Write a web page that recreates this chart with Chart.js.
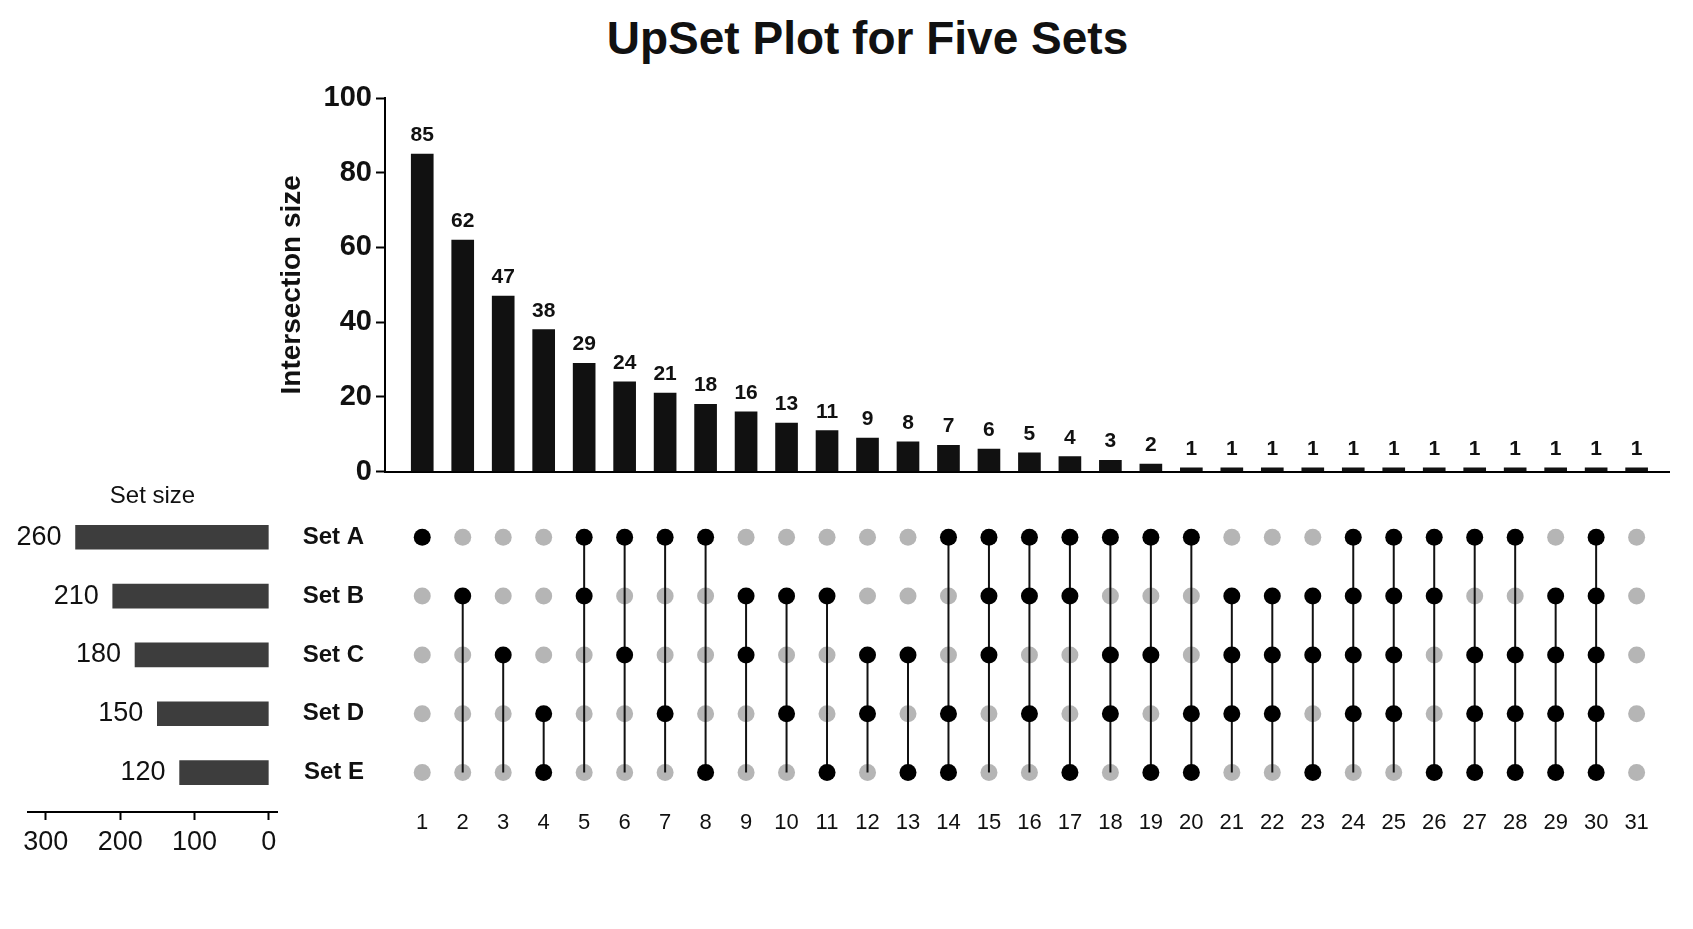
<!DOCTYPE html>
<html>
<head>
<meta charset="utf-8">
<title>UpSet Plot for Five Sets</title>
<script src="https://cdn.jsdelivr.net/npm/chart.js@4.4.1/dist/chart.umd.min.js"></script>
<style>
  html, body { margin: 0; padding: 0; background: #fff; overflow: hidden; }
  #page { position: relative; width: 1693px; height: 929px; }
  #title { position: absolute; left: 21px; top: 11px; width: 1693px; text-align: center;
           font: bold 46px 'Liberation Sans', Arial, sans-serif; color: #111; }
  canvas { position: absolute; }
</style>
</head>
<body>
<div id="page">
  <div id="title">UpSet Plot for Five Sets</div>
  <canvas id="chartBars" width="1453" height="423" style="left:240px;top:70px"></canvas>
  <canvas id="chartMatrix" width="1453" height="383" style="left:240px;top:464px"></canvas>
  <canvas id="chartSets" width="300" height="390" style="left:0px;top:470px"></canvas>
</div>
<script>
// intersections, left to right
const colNumbers = [1, 2, 3, 4, 5, 6, 7, 8, 9, 10, 11, 12, 13, 14, 15, 16,
    17, 18, 19, 20, 21, 22, 23, 24, 25, 26, 27, 28, 29, 30, 31];
const intersectionSizes = [85, 62, 47, 38, 29, 24, 21, 18, 16, 13, 11, 9, 8, 7, 6, 5,
    4, 3, 2, 1, 1, 1, 1, 1, 1, 1, 1, 1, 1, 1, 1];
const countTicks = [0, 20, 40, 60, 80, 100];

// sets
const setNames = ['Set A', 'Set B', 'Set C', 'Set D', 'Set E'];
const setSizes = [260, 210, 180, 150, 120];
const sizeTicks = [300, 200, 100, 0];

// membership of each intersection (1 = filled dot)
const inA = [1, 0, 0, 0, 1, 1, 1, 1, 0, 0, 0, 0, 0, 1, 1, 1, 1, 1, 1, 1, 0, 0, 0, 1, 1, 1, 1, 1, 0, 1, 0];
const inB = [0, 1, 0, 0, 1, 0, 0, 0, 1, 1, 1, 0, 0, 0, 1, 1, 1, 0, 0, 0, 1, 1, 1, 1, 1, 1, 0, 0, 1, 1, 0];
const inC = [0, 0, 1, 0, 0, 1, 0, 0, 1, 0, 0, 1, 1, 0, 1, 0, 0, 1, 1, 0, 1, 1, 1, 1, 1, 0, 1, 1, 1, 1, 0];
const inD = [0, 0, 0, 1, 0, 0, 1, 0, 0, 1, 0, 1, 0, 1, 0, 1, 0, 1, 0, 1, 1, 1, 0, 1, 1, 0, 1, 1, 1, 1, 0];
const inE = [0, 0, 0, 1, 0, 0, 0, 1, 0, 0, 1, 0, 1, 1, 0, 0, 1, 0, 1, 1, 0, 0, 1, 0, 0, 1, 1, 1, 1, 1, 0];
// row each connector runs down to (0 = Set A ... 4 = Set E)
const linkEnd = [0, 4, 4, 4, 4, 4, 4, 4, 4, 4, 4, 4, 4, 4, 4, 4,
    4, 4, 4, 4, 4, 4, 4, 4, 4, 4, 4, 4, 4, 4, 4];

const fontNarrow = "'Liberation Sans Narrow', 'Liberation Sans', Arial, sans-serif";
const fontWide = "'Liberation Sans', Arial, sans-serif";
const membership = [inA, inB, inC, inD, inE];

const ctxBars = document.getElementById('chartBars');
const ctxMatrix = document.getElementById('chartMatrix');
const ctxSets = document.getElementById('chartSets');

//labels on top of the intersection bars
const topLabels = {
    id: 'topLabels',
    afterDatasetsDraw(chart) {
        const ctx = chart.ctx;
        ctx.save();
        ctx.font = 'bold 21px ' + fontNarrow;
        ctx.fillStyle = '#111';
        ctx.textAlign = 'center';
        ctx.textBaseline = 'alphabetic';
        chart.getDatasetMeta(0).data.forEach((bar, i) => {
            ctx.fillText(String(intersectionSizes[i]), bar.x, bar.y - 13);
        });
        ctx.restore();
    }
};

//labels left of the set size bars
const sideLabels = {
    id: 'sideLabels',
    afterDatasetsDraw(chart) {
        const ctx = chart.ctx;
        ctx.save();
        ctx.font = '27px ' + fontNarrow;
        ctx.fillStyle = '#111';
        ctx.textAlign = 'right';
        ctx.textBaseline = 'middle';
        chart.getDatasetMeta(0).data.forEach((bar, i) => {
            ctx.fillText(String(setSizes[i]), bar.x - 14, bar.y);
        });
        ctx.restore();
    }
};

//chart untuk intersection size
new Chart(ctxBars, {
    type: 'bar',
    data: {
        datasets: [{
            data: colNumbers.map((c, i) => ({ x: c, y: intersectionSizes[i] })),
            backgroundColor: '#111',
            barThickness: 22
        }]
    },
    options: {
        responsive: false,
        animation: false,
        layout: { padding: { top: 28, right: 24, left: 0, bottom: 0 } },
        plugins: { legend: { display: false }, tooltip: { enabled: false } },
        scales: {
            x: {
                type: 'linear',
                offset: false,
                min: 0.08,
                max: 31.8,
                grid: { display: false, drawTicks: false },
                ticks: { display: false },
                border: { color: '#000', width: 2 },
                afterFit: s => { s.height = 4; }
            },
            y: {
                min: 0,
                max: 100,
                afterBuildTicks: s => { s.ticks = countTicks.map(v => ({ value: v })); },
                grid: { drawOnChartArea: false, tickLength: 9, tickWidth: 2, tickColor: '#000' },
                border: { color: '#000', width: 2 },
                ticks: { padding: 4, color: '#111', font: { family: fontNarrow, weight: 'bold', size: 29 } },
                title: {
                    display: true,
                    text: 'Intersection size',
                    color: '#111',
                    font: { family: fontWide, weight: 'bold', size: 28 },
                    padding: { top: 35, bottom: 0 }
                },
                afterFit: s => { s.width = 145; }
            }
        }
    },
    plugins: [topLabels]
});

//chart untuk matrix
const emptyDots = [];
const fullDots = [];
const links = [];
colNumbers.forEach((c, i) => {
    let top = -1;
    membership.forEach((row, r) => {
        if (row[i]) {
            fullDots.push({ x: c, y: r });
            if (top < 0) top = r;
        } else {
            emptyDots.push({ x: c, y: r });
        }
    });
    if (top >= 0 && linkEnd[i] > top) {
        links.push({ x: c, y: top }, { x: c, y: linkEnd[i] }, { x: c, y: null });
    }
});

new Chart(ctxMatrix, {
    type: 'scatter',
    data: {
        datasets: [{
            data: emptyDots,
            pointRadius: 8.5,
            pointBackgroundColor: '#b5b5b5',
            pointBorderWidth: 0,
            order: 3
        }, {
            data: links,
            showLine: true,
            spanGaps: false,
            pointRadius: 0,
            borderColor: '#111',
            borderWidth: 2,
            order: 2
        }, {
            data: fullDots,
            pointRadius: 8.5,
            pointBackgroundColor: '#000',
            pointBorderWidth: 0,
            order: 1
        }]
    },
    options: {
        responsive: false,
        animation: false,
        layout: { padding: { top: 0, right: 24, left: 0, bottom: 0 } },
        plugins: { legend: { display: false }, tooltip: { enabled: false } },
        scales: {
            x: {
                type: 'linear',
                min: 0.08,
                max: 31.8,
                grid: { display: false, drawTicks: false },
                border: { display: false },
                afterBuildTicks: s => { s.ticks = colNumbers.map(v => ({ value: v })); },
                ticks: { padding: 8, color: '#111', autoSkip: false, maxRotation: 0, font: { family: fontNarrow, size: 22 } },
                afterFit: s => { s.height = 45; }
            },
            y: {
                type: 'linear',
                reverse: true,
                min: -1,
                max: 4.5,
                grid: { display: false, drawTicks: true, tickLength: 21 },
                border: { display: false },
                afterBuildTicks: s => { s.ticks = setNames.map((n, i) => ({ value: i })); },
                ticks: {
                    padding: 0,
                    color: '#111',
                    font: { family: fontWide, weight: 'bold', size: 24 },
                    callback: v => setNames[v]
                },
                afterFit: s => { s.width = 145; }
            }
        }
    }
});

//chart untuk set size
new Chart(ctxSets, {
    type: 'bar',
    data: {
        datasets: [{
            data: setSizes.map((v, i) => ({ x: v, y: i })),
            backgroundColor: '#3d3d3d',
            barThickness: 24
        }]
    },
    options: {
        indexAxis: 'y',
        responsive: false,
        animation: false,
        layout: { padding: { top: 0, right: 23, left: 28, bottom: 0 } },
        plugins: {
            legend: { display: false },
            tooltip: { enabled: false },
            title: {
                display: true,
                text: 'Set size',
                color: '#111',
                font: { family: fontWide, size: 24, weight: 'normal' },
                padding: { top: 12, bottom: 0 }
            }
        },
        scales: {
            x: {
                type: 'linear',
                reverse: true,
                min: -11,
                max: 324,
                afterBuildTicks: s => { s.ticks = sizeTicks.map(v => ({ value: v })); },
                grid: { drawOnChartArea: false, tickLength: 8, tickWidth: 2, tickColor: '#000' },
                border: { color: '#000', width: 2 },
                ticks: { padding: 6, color: '#111', autoSkip: false, maxRotation: 0, font: { family: fontNarrow, size: 27 } },
                afterFit: s => { s.height = 48; }
            },
            y: {
                type: 'linear',
                offset: false,
                reverse: true,
                min: -0.45,
                max: 4.67,
                display: false
            }
        }
    },
    plugins: [sideLabels]
});
</script>
</body>
</html>
